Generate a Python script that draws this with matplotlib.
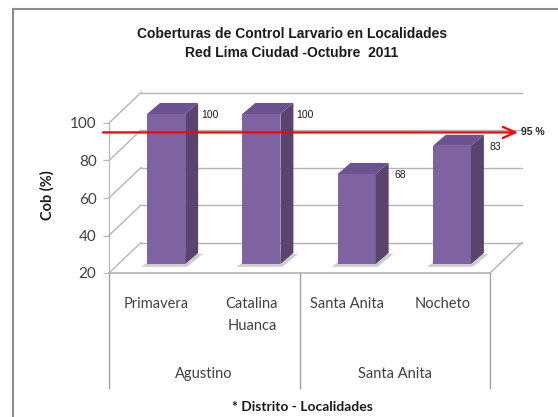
import matplotlib
matplotlib.use('Agg')
import matplotlib.pyplot as plt
import matplotlib.transforms as mtransforms
from matplotlib.patches import Polygon, Rectangle

# datos
localidades = ['Primavera', 'Catalina\nHuanca', 'Santa Anita', 'Nocheto']
distritos = ['Agustino', 'Santa Anita']
distrito_n = [2, 2]
cobertura = [100, 100, 68, 83]
meta = 95
yticks = [20, 40, 60, 80, 100]

NARROW = ['Liberation Sans Narrow', 'Liberation Sans', 'DejaVu Sans']
CALIBRI = ['Lato', 'DejaVu Sans']
W, H = 558, 417

fig = plt.figure(figsize=(W / 100, H / 100), dpi=100)


def fx(px):
    return px / W


def fy(py):
    return 1 - py / H


# marco del grafico
fig.patches.append(Rectangle((fx(13), fy(600)), 2, fy(9) - fy(600), transform=fig.transFigure,
                             fill=False, edgecolor='#8c8c8c', linewidth=1.5))

ax = fig.add_axes([fx(109), fy(273), fx(490) - fx(109), fy(123) - fy(273)])
ax.set_xlim(-0.5, 3.5)
ax.set_ylim(20, 100)
ax.patch.set_visible(False)

# profundidad de paredes (3D simulado)
DX, DY = 0.335, 16.2
grid_c = '#b4b4b4'
x0, x1 = ax.get_xlim()
for v in yticks:
    ax.plot([x0, x0 + DX], [v, v + DY], color=grid_c, lw=1, clip_on=False, zorder=1)
    ax.plot([x0 + DX, x1 + DX], [v + DY, v + DY], color=grid_c, lw=1, clip_on=False, zorder=1)
ax.plot([x1, x1 + DX], [yticks[0], yticks[0] + DY], color=grid_c, lw=1, clip_on=False, zorder=1)
ax.plot([x0, x1], [yticks[0], yticks[0]], color=grid_c, lw=1.2, clip_on=False, zorder=1)

# barras
BX, BY = 0.1, 4.8
BW = 0.4
DXb, DYb = 0.136, 5.9
xs = list(range(len(cobertura)))
base = yticks[0] + BY
bars = ax.bar([x + BX for x in xs], [c - yticks[0] for c in cobertura], bottom=base,
              width=BW, color='#7f62a0', zorder=4, clip_on=False)
for b in bars:
    l, r = b.get_x(), b.get_x() + b.get_width()
    bot, top = b.get_y(), b.get_y() + b.get_height()
    ax.add_patch(Polygon([(l - 0.06, bot - 1.5), (r + 0.02, bot - 1.5), (r + DXb + 0.05, bot + DYb - 0.5),
                          (l + DXb, bot + DYb)], closed=True, facecolor='#b8b8b8', edgecolor='none',
                         alpha=0.7, zorder=3, clip_on=False))
    ax.add_patch(Polygon([(r, bot), (r + DXb, bot + DYb), (r + DXb, top + DYb), (r, top)],
                         closed=True, facecolor='#59436f', edgecolor='none', zorder=4, clip_on=False))
    ax.add_patch(Polygon([(l, top), (r, top), (r + DXb, top + DYb), (l + DXb, top + DYb)],
                         closed=True, facecolor='#6b5290', edgecolor='none', zorder=4, clip_on=False))

for x, c in zip(xs, cobertura):
    ax.text(x + 0.56, c + 4, str(c), ha='center', va='center', fontsize=7.5,
            family=NARROW, color='#1a1a1a', zorder=6)

# linea de meta
ax.annotate('', xy=(3.794, meta), xytext=(-0.563, meta), annotation_clip=False,
            arrowprops=dict(arrowstyle='->,head_length=0.9,head_width=0.4', color='#ff0000',
                            lw=1.6, mutation_scale=10, shrinkA=0, shrinkB=0), zorder=7)
ax.text(3.83, meta, '95 %', ha='left', va='center', fontsize=7.5, family=NARROW,
        fontweight='bold', color='#262626', zorder=7)

# ejes
for s in ['top', 'right', 'bottom']:
    ax.spines[s].set_visible(False)
ax.spines['left'].set_color(grid_c)
ax.set_xticks([])
ax.set_yticks(yticks)
ax.tick_params(axis='y', direction='out', length=4, color=grid_c, pad=5,
               labelsize=11, labelcolor='#404040')
for lab in ax.get_yticklabels():
    lab.set_family(CALIBRI)

# tabla de categorias
tr = mtransforms.blended_transform_factory(ax.transData, fig.transFigure)
for x, name in zip(xs, localidades):
    ax.text(x, fy(297), name, transform=tr, ha='center', va='top', fontsize=10.5,
            family=CALIBRI, color='#404040', linespacing=1.7)
edges = [x0]
for n in distrito_n:
    edges.append(edges[-1] + n)
for e in edges:
    ax.plot([e, e], [fy(273), fy(388)], transform=tr, color='#a0a0a0', lw=1, clip_on=False)
for a, b, name in zip(edges[:-1], edges[1:], distritos):
    ax.text((a + b) / 2, fy(374), name, transform=tr, ha='center', va='center', fontsize=10.5,
            family=CALIBRI, color='#404040')

fig.text(fx(302), fy(407), '* Distrito - Localidades', ha='center', va='center', fontsize=10,
         family=CALIBRI, fontweight='bold', color='#1a1a1a')
fig.text(fx(47), fy(195), 'Cob (%)', rotation=90, ha='center', va='center', fontsize=10.5,
         family=CALIBRI, fontweight='bold', color='#1a1a1a')
fig.text(fx(292), fy(43.5), 'Coberturas de Control Larvario en Localidades\nRed Lima Ciudad -Octubre  2011',
         ha='center', va='center', fontsize=10, family=NARROW, fontweight='bold',
         color='#1a1a1a', linespacing=1.37)

fig.savefig('out.png', dpi=100)
